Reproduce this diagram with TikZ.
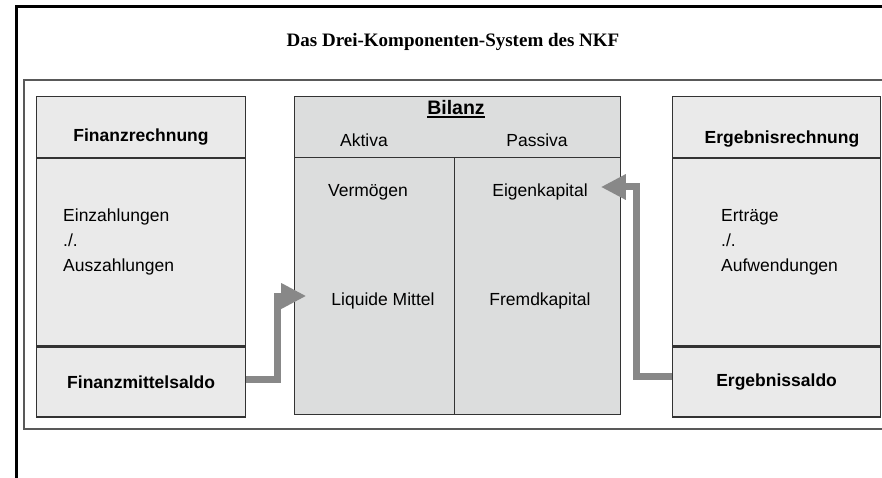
\documentclass[tikz,border=0pt]{standalone}
\usepackage{fontspec}
\setmainfont{Liberation Sans}
\newfontfamily\titlefont{Liberation Serif}
\usepackage{tikz}
\usetikzlibrary{positioning,arrows.meta}

\definecolor{sidefill}{HTML}{EAEAEA}
\definecolor{bilfill}{HTML}{DCDDDD}
\definecolor{boxline}{HTML}{333333}
\definecolor{flowgray}{HTML}{888888}

\newcommand{\bodysize}{\fontsize{17.5}{25}\selectfont}
\newcommand{\thickul}[1]{{\setbox0\hbox{#1}\rlap{\rule[-3pt]{\wd0}{1.8pt}}\box0}}

\tikzset{
  sidebox/.style = {draw = boxline, line width = 1.2pt, fill = sidefill, minimum width = 209pt, inner sep = 0pt},
  bilbox/.style = {draw = boxline, line width = 1.2pt, fill = bilfill, inner sep = 0pt},
  lbl/.style = {inner sep = 0pt},
  boldlbl/.style = {font = \bodysize\bfseries},
  flowarrow/.style = {draw = flowgray, line width = 7pt, -{Triangle[length=25pt, width=24pt]}}
}

\begin{document}
\begin{tikzpicture}[x = 1pt, y = -1pt, font = \bodysize]
            \useasboundingbox (0,0) rectangle (882,478);
            \fill[white] (0,0) rectangle (882,478);

            % frames
            \draw [line width = 3pt] (16,478) -- (16,7) -- (882,7);
            \draw [line width = 2pt, draw = black!65] (882,80) -- (24,80) -- (24,429) -- (882,429);

            \node [lbl, font = \titlefont\bfseries\fontsize{19}{22}\selectfont] (title) at (453,42) {Das Drei-Komponenten-System des NKF};

            % Finanzrechnung
            \node [sidebox, anchor = north west, minimum height = 61pt] (fin-head) at (36,96) {};
            \node [sidebox, minimum height = 187pt, below = 0pt of fin-head] (fin-body) {};
            \node [sidebox, boldlbl, minimum height = 70pt, below = 0pt of fin-body] (fin-saldo) {Finanzmittelsaldo};
            \node [lbl, boldlbl] (fin-title) at (141,137) {Finanzrechnung};
            \node [lbl, anchor = west, align = left] (fin-text) at (63,242) {Einzahlungen\\./.\\Auszahlungen};

            % Bilanz
            \node [bilbox, anchor = north west, minimum width = 326pt, minimum height = 61pt] (bil-head) at (294,96) {};
            \node [bilbox, anchor = north west, minimum width = 160pt, minimum height = 257pt] (bil-left) at (294,157) {};
            \node [bilbox, anchor = north west, minimum width = 166pt, minimum height = 257pt] (bil-right) at (454,157) {};
            \node [lbl, font = \bfseries\fontsize{19.5}{22}\selectfont] (bil-title) at (456,109) {\thickul{Bilanz}};
            \node [lbl] (aktiva) at (364,140) {Aktiva};
            \node [lbl] (passiva) at (537,140) {Passiva};
            \node [lbl] (verm) at (368,192) {Vermögen};
            \node [lbl] (eig) at (540,192) {Eigenkapital};
            \node [lbl] (liq) at (383,301) {Liquide Mittel};
            \node [lbl] (fremd) at (540,301) {Fremdkapital};

            % Ergebnisrechnung
            \node [sidebox, anchor = north west, minimum width = 208pt, minimum height = 61pt] (erg-head) at (672,96) {};
            \node [sidebox, minimum width = 208pt, minimum height = 187pt, below = 0pt of erg-head] (erg-body) {};
            \node [sidebox, boldlbl, minimum width = 208pt, minimum height = 70pt, below = 0pt of erg-body] (erg-saldo) {Ergebnissaldo};
            \node [lbl, boldlbl] (erg-title) at (782,139) {Ergebnisrechnung};
            \node [lbl, anchor = west, align = left] (erg-text) at (721,242) {Erträge\\./.\\Aufwendungen};

            % flows
            \draw [flowarrow, shorten > = 25pt] ([yshift = 3pt]fin-saldo.east) -- ++(31,0) |- ([yshift = 5pt]liq.west);
            \draw [flowarrow, shorten > = 13pt] ([yshift = 6pt]erg-saldo.west) -- ++(-36,0) |- ([yshift = 5pt]eig.east);
        \end{tikzpicture}
\end{document}
